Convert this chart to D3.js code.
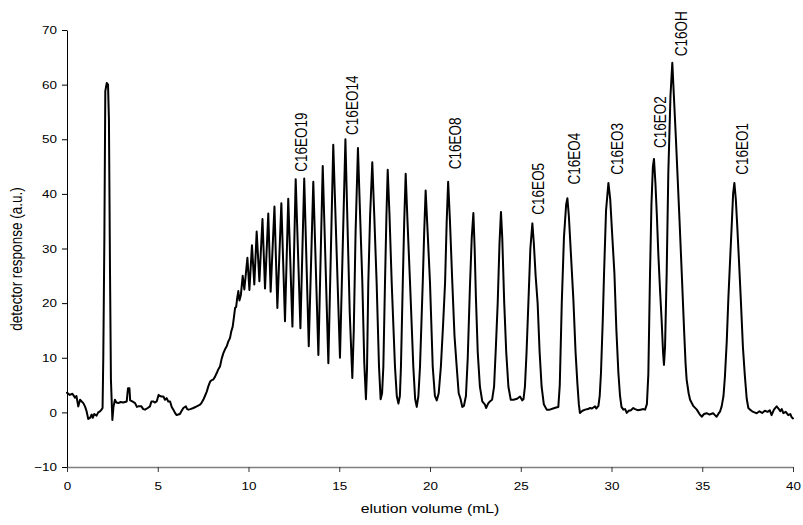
<!DOCTYPE html>
<html><head><meta charset="utf-8">
<script src="https://cdn.jsdelivr.net/npm/d3@7"></script>
<style>html,body{margin:0;padding:0;background:#fff;} svg{display:block;}</style>
</head><body><svg id="chart" width="803" height="525"></svg>
<script>
// ---- data ----
const elutionVolume = [
  0,0.15,0.3,0.44,0.52,0.62,0.72,0.81,0.9,0.99,1.08,1.17,1.27,1.36,1.42,1.5,1.63,1.72,1.82,1.9,1.96,
  2.0,2.06,2.11,2.19,2.26,2.31,2.37,2.42,2.5,
  2.56,2.64,2.72,2.83,2.95,3.1,3.29,3.36,3.44,3.48,
  3.6,3.75,3.85,3.93,4.1,4.2,4.3,4.45,4.57,4.65,
  4.75,4.85,4.94,5.05,5.12,5.2,5.31,5.4,5.49,5.58,
  5.68,5.77,5.86,5.95,6.04,6.13,6.22,6.32,6.41,6.55,
  6.62,6.69,6.8,6.96,7.15,7.33,7.42,7.51,7.6,7.7,
  7.79,7.88,7.97,8.06,8.15,8.25,8.34,8.43,8.52,8.61,
  8.7,8.8,8.89,8.98,9.05,9.13,9.2,9.26,9.32,9.38,
  9.44,9.5,9.58,
  9.68,9.77,9.94,10.05,10.19,10.32,10.45,10.6,10.77,10.91,
  11.09,11.22,11.43,11.59,11.81,12.01,12.19,12.42,12.6,12.86,
  13.07,13.32,13.57,13.85,14.09,14.4,14.67,15.04,15.34,
  15.45,15.58,15.72,15.8,15.9,16.03,16.13,16.27,16.38,16.47,
  16.53,16.6,16.7,16.82,16.93,17.06,17.19,17.28,17.36,17.43,
  17.52,17.6,17.67,17.77,17.89,18.07,18.17,18.26,18.34,18.4,
  18.5,18.58,18.66,18.76,18.9,19.08,19.18,19.27,19.36,19.45,
  19.6,19.68,19.76,19.87,20.0,20.15,20.27,20.37,20.48,20.6,
  20.72,20.83,20.92,21.0,21.1,21.23,21.35,21.47,21.58,21.68,
  21.78,21.87,
  21.98,22.08,22.2,22.3,22.39,22.46,22.53,22.63,22.75,22.88,
  23.03,23.09,23.2,23.3,23.42,23.53,23.63,23.73,23.83,23.91,
  23.98,24.09,24.2,24.32,24.45,24.6,24.8,24.96,25.08,25.15,
  25.23,25.32,25.42,25.53,25.64,25.72,25.82,25.93,26.04,26.15,
  26.27,26.43,26.6,26.78,26.95,27.07,
  27.15,27.26,27.38,27.5,27.57,27.65,27.78,27.9,28.02,28.12,
  28.2,28.26,28.4,28.55,28.7,28.82,28.92,29.0,29.09,29.16,
  29.28,
  29.35,29.42,29.52,29.59,29.7,29.83,29.93,30.03,30.16,30.27,
  30.38,30.47,30.55,30.65,30.75,30.84,30.95,31.07,31.2,31.3,
  31.44,31.6,31.75,31.85,31.95,
  32.03,32.12,32.2,32.28,32.34,32.42,32.5,32.58,32.68,32.76,
  32.84,32.89,32.95,33.04,33.13,33.25,33.35,33.45,33.55,33.63,
  33.75,33.87,34.0,34.08,34.14,34.25,34.33,34.5,34.7,34.85,
  34.97,35.1,35.24,35.4,35.6,35.7,35.79,35.9,35.98,
  36.07,36.17,36.25,36.35,36.44,36.55,36.62,36.7,36.77,36.85,
  36.93,37.02,37.12,37.24,37.35,37.45,37.54,37.63,37.75,37.88,
  38.0,38.15,38.3,38.45,38.6,38.72,38.82,38.95,39.1,39.2,
  39.3,39.38,39.47,39.6,39.74,39.85,39.93,40.0
];
const detectorResponse = [
  3.6,3.2,3.4,2.7,3.0,1.1,2.3,2.0,1.7,1.1,0.2,-1.2,-1.0,-0.4,-1.0,-0.3,-0.6,0.0,0.2,0.5,0.8,
  10.2,32.2,58.8,60.3,60.0,53.6,25.5,6.0,-1.4,
  1.0,2.3,1.8,1.7,1.9,1.8,2.0,4.4,4.4,2.2,
  2.0,1.7,1.0,1.1,1.1,0.6,0.5,0.8,1.1,2.0,
  2.0,1.8,2.0,3.2,3.0,2.9,2.9,2.3,2.6,2.0,
  2.0,1.0,0.5,-0.1,-0.5,-0.4,-0.3,0.3,0.8,1.1,
  0.6,0.5,0.6,0.8,1.1,1.4,1.8,2.3,3.0,3.8,
  4.8,5.6,5.9,6.0,6.5,7.2,7.9,8.4,9.8,10.8,
  11.5,12.1,13.0,13.6,14.8,15.7,17.5,19.1,19.3,21.0,
  22.2,20.5,21.5,
  25.0,22.5,28.3,22.4,30.6,23.4,33.1,24.0,35.4,22.7,
  36.4,22.1,37.7,19.1,38.3,16.7,39.1,15.7,42.7,15.4,
  42.8,12.1,42.2,10.5,45.1,9.0,49.0,10.0,50.0,
  35,18,6.3,15,33,48.4,38,24,9,2.4,
  8,23.7,36,45.8,36,23.7,8.4,2.4,3.5,8.4,
  23.7,36,44.4,36,23.7,8.4,3,1.6,3,8.4,
  23.7,35,43.7,35,23.7,8.4,2.5,1.0,3,8.4,
  23.7,33,40.6,33,23.7,8.4,3,2.2,3.5,8.4,
  16,23.7,35,42.2,35,23.7,14,8.4,3.5,2.5,
  1.0,1.2,
  3,10,23,32,36.5,30,21,11,4.7,2,
  1.4,0.8,1.6,2.0,2.3,4.7,12,20,31,36.7,
  32,20,11,4.7,2.3,2.3,2.5,2.9,2.2,2.4,
  4.7,11,20,30,34.6,31,25,20,11,4.7,
  1.5,0.5,0.5,0.7,0.9,1.0,
  5,20,32,38,39.2,36,28,20.6,11,5.3,
  1.5,-0.1,0.3,0.5,0.6,0.8,0.7,0.9,1.1,0.7,
  1.2,
  3,7.2,17,25.5,37,42,39,33,25.5,15,
  7.2,3,1.0,0.5,0.6,-0.1,0.3,0.4,0.8,0.6,
  0.4,0.5,0.6,0.5,1.5,
  7,25,38,45,46.4,42,36,29,22,17,
  11,8.7,12,25.5,43.8,58,64,57,50,44,
  35,25.5,15,9,6,3.5,2.3,1.2,0.5,-0.3,
  -0.8,-0.3,-0.15,-0.4,-0.15,-0.5,-0.8,-0.2,0.15,
  1.1,3,6.6,13,21,29,34,40,42,39,
  34,28,21,12,6.6,2.5,0.8,0.5,0.2,0.0,
  -0.15,0.2,-0.1,0.3,0.1,0.4,-0.5,0.5,1.1,0.7,
  0.2,0.6,-0.15,0.1,-0.5,-0.3,-0.9,-1.1
];
const xTicks = [0,5,10,15,20,25,30,35,40];
const yTicks = [-10,0,10,20,30,40,50,60,70];
const peakLabels = ["C16EO19","C16EO14","C16EO8","C16EO5","C16EO4","C16EO3","C16EO2","C16OH","C16EO1"];
const labelX = [12.92,15.73,21.38,26.0,27.94,30.33,32.67,33.83,37.22];
const labelY = [44.05,50.8,44.5,36.2,41.7,43.5,48.4,65.2,43.5];
const xTitle = "elution volume (mL)";
const yTitle = "detector response (a.u.)";

if (elutionVolume.length !== detectorResponse.length) console.error("length mismatch", elutionVolume.length, detectorResponse.length);

// ---- drawing ----
const svg = d3.select("#chart");
const font = "'Liberation Sans', Arial, Helvetica, sans-serif";
const SX = 1.17; // horizontal stretch of the reference text
svg.append("rect").attr("width",803).attr("height",525).attr("fill","#fff");

const x = d3.scaleLinear().domain([0,40]).range([67,793]);
const y = d3.scaleLinear().domain([-10,70]).range([467,30]);

// y axis
const gy = svg.append("g").attr("transform",`translate(${x(0)},0)`)
  .call(d3.axisLeft(y).tickValues(yTicks).tickSize(5).tickSizeOuter(0).tickPadding(5));
gy.select(".domain").attr("stroke","#000").attr("stroke-width",1);
gy.selectAll(".tick line").attr("stroke","#000");
gy.selectAll(".tick text").attr("fill","#000").attr("font-family",font).attr("font-size",11.5)
  .attr("x",0).attr("transform",`translate(-10,0) scale(${SX},1)`);

// x axis
const gx = svg.append("g").attr("transform",`translate(0,${y(-10)})`)
  .call(d3.axisBottom(x).tickValues(xTicks).tickSize(5).tickSizeOuter(0).tickPadding(10));
gx.select(".domain").attr("stroke","#808080").attr("stroke-width",1.5);
gx.selectAll(".tick line").attr("stroke","#333");
gx.selectAll(".tick text").attr("fill","#000").attr("font-family",font).attr("font-size",11.5)
  .attr("transform",`scale(${SX},1)`);

// trace
const line = d3.line()
  .x(i => x(elutionVolume[i]))
  .y(i => y(detectorResponse[i]))
  .curve(d3.curveLinear);
svg.append("path").datum(d3.range(elutionVolume.length))
  .attr("d", line).attr("fill","none").attr("stroke","#000")
  .attr("stroke-width",2).attr("stroke-linejoin","round").attr("stroke-linecap","round");

// peak labels
svg.append("g").selectAll("text").data(peakLabels).join("text")
  .attr("transform",(d,i)=>`translate(${x(labelX[i])},${y(labelY[i])}) scale(${SX},1) rotate(-90)`)
  .attr("dy","0.35em").attr("text-anchor","start")
  .attr("font-family",font).attr("font-size",13.5).attr("fill","#000")
  .text(d=>d);

// axis titles
svg.append("text").attr("transform",`translate(${(x(0)+x(40))/2},513) scale(${SX},1)`)
  .attr("text-anchor","middle").attr("font-family",font).attr("font-size",13.5).attr("fill","#000")
  .text(xTitle);
svg.append("text").attr("transform",`translate(22,259) scale(${SX},1) rotate(-90)`)
  .attr("text-anchor","middle").attr("font-family",font).attr("font-size",13.5).attr("fill","#000")
  .text(yTitle);
</script></body></html>
